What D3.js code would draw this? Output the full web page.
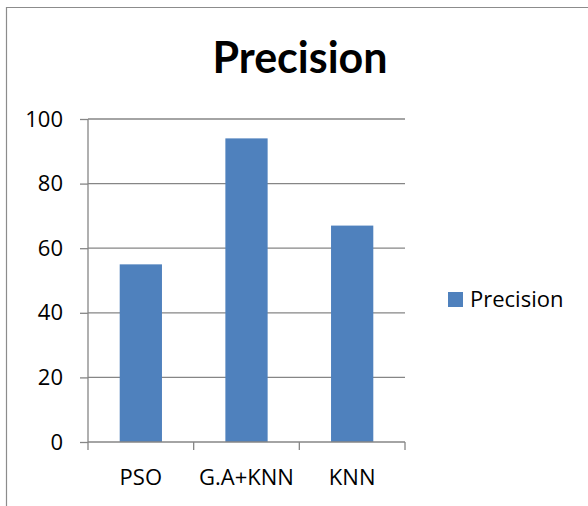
<!DOCTYPE html>
<html><head><meta charset="utf-8">
<script src="https://cdn.jsdelivr.net/npm/d3@7"></script>
<style>body{margin:0;background:#fff}svg{display:block}</style>
</head><body>
<script>
const categories = ["PSO", "G.A+KNN", "KNN"];
const values = [55, 94, 67];
const yTicks = [0, 20, 40, 60, 80, 100];
const seriesName = "Precision";
const title = "Precision";

const W = 588, H = 506;
const svg = d3.select("body").append("svg").attr("width", W).attr("height", H);
const font = "'Open Sans', Lato, sans-serif";
const titleFont = "Lato, 'Open Sans', sans-serif";

// chart border (left and top visible)
svg.append("path").attr("d", "M6.5,506 V7.5 H588").attr("fill", "none").attr("stroke", "#8c8c8c").attr("stroke-width", 1.2);

const x = d3.scaleBand().domain(categories).range([88, 405]).paddingInner(0.6).paddingOuter(0.3);
const y = d3.scaleLinear().domain([0, 100]).range([442, 119]);

const grid = "#868686";
svg.append("g").selectAll("line").data(yTicks.slice(1)).join("line")
  .attr("x1", 88).attr("x2", 405).attr("y1", d => y(d)).attr("y2", d => y(d))
  .attr("stroke", grid).attr("stroke-width", 1.3);

svg.append("g").selectAll("rect").data(values).join("rect")
  .attr("x", (d, i) => x(categories[i])).attr("width", x.bandwidth())
  .attr("y", d => y(d)).attr("height", d => y(0) - y(d)).attr("fill", "#4F81BD");

const yAxis = svg.append("g").attr("transform", "translate(88,0)")
  .call(d3.axisLeft(y).tickValues(yTicks).tickSize(8).tickPadding(17).tickFormat(d3.format("d")));
yAxis.select(".domain").attr("stroke", grid).attr("stroke-width", 1.3).attr("d", "M0,119V442");
yAxis.selectAll(".tick line").attr("stroke", grid).attr("stroke-width", 1.3);
yAxis.selectAll("text").attr("font-family", font).attr("font-size", 22).attr("fill", "#000");

const xAxis = svg.append("g").attr("transform", "translate(0,442)");
xAxis.append("line").attr("x1", 88).attr("x2", 405).attr("stroke", grid).attr("stroke-width", 1.3);
const step = x.step();
const bounds = categories.map(c => x(c) - x.paddingInner() * step / 2);
bounds.push(bounds[bounds.length - 1] + step);
xAxis.selectAll("line.t").data(bounds).join("line").attr("class", "t")
  .attr("x1", d => d).attr("x2", d => d).attr("y1", 0).attr("y2", 8)
  .attr("stroke", grid).attr("stroke-width", 1.3);
xAxis.selectAll("text").data(categories).join("text")
  .attr("x", d => x(d) + x.bandwidth() / 2).attr("y", 43).attr("text-anchor", "middle")
  .attr("font-family", font).attr("font-size", 22).text(d => d);

svg.append("text").attr("x", 300).attr("y", 73).attr("text-anchor", "middle")
  .attr("font-family", titleFont).attr("font-weight", "bold").attr("font-size", 43).text(title);

const lg = svg.append("g");
lg.append("rect").attr("x", 448).attr("y", 292).attr("width", 15).attr("height", 15).attr("fill", "#4F81BD");
lg.append("text").attr("x", 470).attr("y", 307).attr("font-family", font).attr("font-size", 22).text(seriesName);
</script>
</body></html>
